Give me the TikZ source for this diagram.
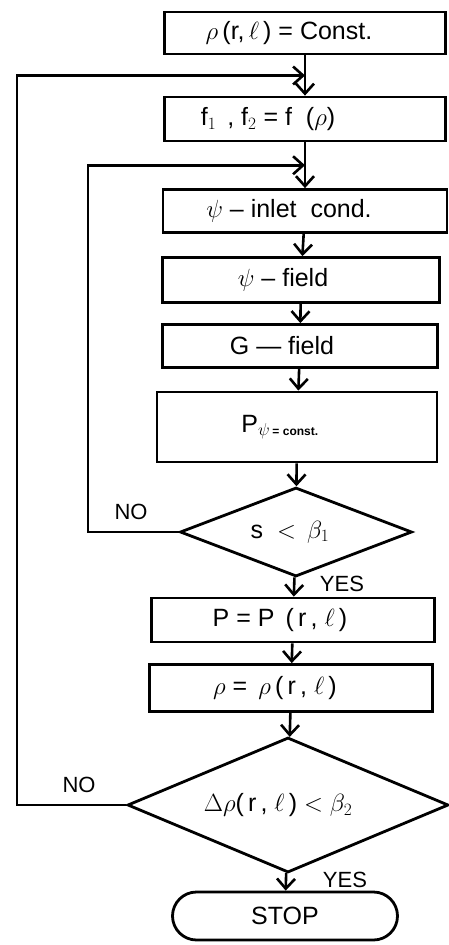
\documentclass[tikz,border=0pt]{standalone}
\usepackage{fontspec}
\setmainfont{Liberation Sans}
\usetikzlibrary{shapes.geometric,arrows.meta,calc}
\begin{document}
\begin{tikzpicture}[x=1pt, y=-1pt, line width=2.6pt,
  every node/.style={font=\fontsize{25}{29}\selectfont},
  lbl/.style={font=\fontsize{22}{26}\selectfont},
  procbox/.style={draw, rectangle, inner sep=0pt, line width=2.8pt},
  testbox/.style={draw, diamond, inner sep=0pt, line width=2.8pt},
  endbox/.style={draw, rectangle, rounded corners=24pt, inner sep=0pt, line width=2.8pt},
  flow/.style={-{Straight Barb[length=10pt, width=18pt, line width=2.6pt]}}]
  \useasboundingbox (0,0) rectangle (449,945);
  % process boxes (text sits a little left of the box centre)
  \node[procbox, minimum width=281pt, minimum height=42pt] (init) at (305,33)
    {$\rho$\,(r,\,$\ell$\,) = Const.\hspace*{32pt}};
  \node[procbox, minimum width=281pt, minimum height=44pt] (coef) at (305,119)
    {f$_1$\, , f$_2$ = f \ ($\rho$)\hspace*{74pt}};
  \node[procbox, minimum width=284pt, minimum height=43pt] (inlet) at (305,211)
    {$\psi$ -- inlet \ cond.\hspace*{32pt}};
  \node[procbox, minimum width=277pt, minimum height=45pt] (psif) at (301,280)
    {$\psi$ -- field\hspace*{36pt}};
  \node[procbox, minimum width=275pt, minimum height=43pt] (gf) at (300,346)
    {G --- field\hspace*{36pt}};
  \node[procbox, minimum width=280pt, minimum height=70pt] (pres) at (297,427)
    {P$_{\psi\,\mbox{\fontsize{12}{13}\selectfont\bfseries = const.}}$\hspace*{34pt}};
  % first test (text kept out of the diamond's size)
  \node[testbox, minimum width=232pt, minimum height=89pt] (test1) at (296,532)
    {\makebox[0pt]{s \ $<$ \,$\beta_1$\hspace*{12pt}}};
  \node[procbox, minimum width=283pt, minimum height=44pt] (pnew) at (293,620)
    {P = P \,(\,r\,, $\ell$\,)\hspace*{26pt}};
  \node[procbox, minimum width=283pt, minimum height=47pt] (rnew) at (291,688)
    {$\rho$ = \,$\rho$\,(\,r\,, $\ell$\,)\hspace*{32pt}};
  % second test
  \node[testbox, minimum width=321pt, minimum height=135pt] (test2) at (288,805)
    {\makebox[0pt]{$\Delta\rho$(\,r\,, $\ell$\,) $<$ $\beta_2$\hspace*{20pt}}};
  \node[endbox, minimum width=225pt, minimum height=48pt] (stop) at (285,916) {STOP};
  % labels
  \node[lbl] (no1) at (131,512) {NO};
  \node[lbl] (yes1) at (342,584) {YES};
  \node[lbl] (no2) at (79,785) {NO};
  \node[lbl] (yes2) at (345,880) {YES};
  % junctions and loop columns
  \coordinate (j1) at ($(init.south)!0.5!(coef.north)$);
  \coordinate (j2) at ($(coef.south)!0.5!(inlet.north)$);
  \coordinate (outerL) at (17,0);
  \coordinate (innerL) at (88,0);
  % arrows
  \draw[flow] (init) -- (coef);
  \draw[flow] (coef) -- (inlet);
  \draw[flow] (inlet) -- (psif);
  \draw[flow] (psif) -- (gf);
  \draw[flow] (gf) -- (pres);
  \draw[flow] (pres) -- (test1);
  \draw[flow] (test1) -- (pnew);
  \draw[flow] (pnew) -- (rnew);
  \draw[flow] (rnew) -- (test2);
  \draw[flow] (test2) -- (stop);
  \draw[flow] (test1.west) -- (test1.west -| innerL) |- (j2);
  \draw[flow] (test2.west) -- (test2.west -| outerL) |- (j1);
\end{tikzpicture}
\end{document}
